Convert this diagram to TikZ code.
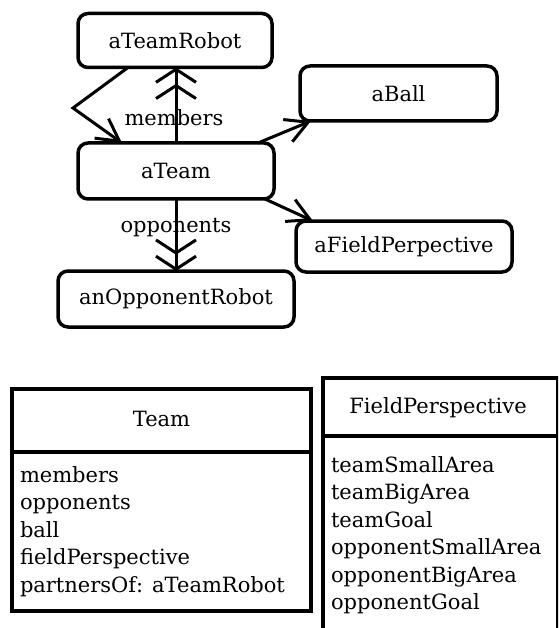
\documentclass[tikz,border=0pt]{standalone}
\usepackage{fontspec}
\setmainfont{DejaVu Serif}
\usetikzlibrary{arrows.meta}
\begin{document}
\begin{tikzpicture}[x=1pt,y=-1pt,
  every node/.style={font=\fontsize{21}{25}\selectfont, inner sep=0pt, outer sep=0pt},
  obj/.style={draw, line width=3.5pt, rounded corners=10pt},
  link/.style={line width=3pt, line cap=butt, line join=miter},
  one/.style={-{Straight Barb[length=22pt,width=24pt]}},
  many/.style={-{Straight Barb[length=13pt,width=40pt,sep=0pt] Straight Barb[length=13pt,width=40pt]}},
  cls/.style={draw, line width=4pt},
  attr/.style={anchor=base west},
]
\useasboundingbox (0,0) rectangle (558,628);
\clip (0,0) rectangle (558,628);

% object instances
\node[obj, minimum width=194pt, minimum height=54pt] (robot) at (175,40.5) {aTeamRobot};
\node[obj, minimum width=196pt, minimum height=56pt] (team)  at (176,171) {aTeam};
\node[obj, minimum width=197pt, minimum height=55pt] (ball)  at (398.5,93.5) {aBall};
\node[obj, minimum width=216pt, minimum height=51pt] (field) at (404,246.5) {aFieldPerpective};
\node[obj, minimum width=236pt, minimum height=56pt] (opp)   at (176,299) {anOpponentRobot};

% links between the instances
\coordinate (bend) at (73,108);
\draw[link, one] ([xshift=-47pt]robot.south) -- (bend) -- ([xshift=-54pt]team.north);
\draw[link, many] (team.north) -- (team.north |- robot.south);
\node (lmembers) at (174,118) {members};
\draw[link, one] ([xshift=-16pt]team.north east) -- ([xshift=11pt]ball.south west);
\draw[link, one] ([xshift=-9pt]team.south east) -- ([xshift=17pt]field.north west);
\draw[link, many] (team.south) -- (team.south |- opp.north);
\node (lopponents) at (176,228) {opponents};

% class Team
\node[cls, minimum width=299pt, minimum height=222pt] (teamcls) at (161.5,500) {};
\draw[line width=4pt] (teamcls.west |- 0,452) -- (teamcls.east |- 0,452);
\node (teamname) at (161.5,419) {Team};
\node[attr] (ta1) at (20,482) {members};
\node[attr] (ta2) at (20,509.5) {opponents};
\node[attr] (ta3) at (20,537) {ball};
\node[attr] (ta4) at (20,564.5) {fieldPerspective};
\node[attr] (ta5) at (20,592) {partnersOf: aTeamRobot};

% class FieldPerspective
\node[cls, minimum width=235pt, minimum height=262pt] (fpcls) at (440,509) {};
\draw[line width=4pt] (fpcls.west |- 0,436) -- (fpcls.east |- 0,436);
\node (fpname) at (438,408) {FieldPerspective};
\node[attr] (fa1) at (331,472) {teamSmallArea};
\node[attr] (fa2) at (331,499.5) {teamBigArea};
\node[attr] (fa3) at (331,527) {teamGoal};
\node[attr] (fa4) at (331,554.5) {opponentSmallArea};
\node[attr] (fa5) at (331,582) {opponentBigArea};
\node[attr] (fa6) at (331,609.5) {opponentGoal};
\end{tikzpicture}
\end{document}
